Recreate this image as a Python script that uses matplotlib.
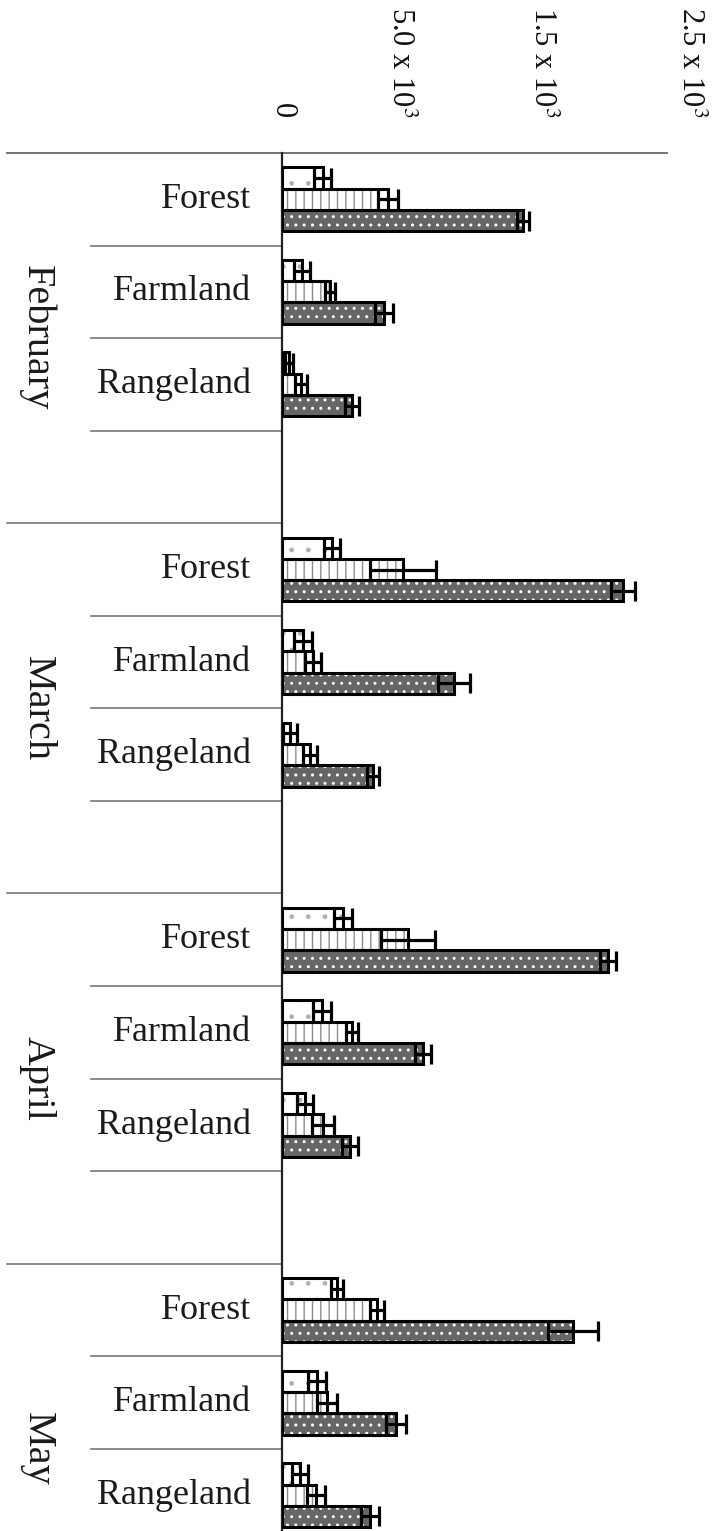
import matplotlib
matplotlib.use('Agg')
import matplotlib.pyplot as plt
import numpy as np

plt.rcParams['font.family'] = ['Liberation Serif', 'DejaVu Serif']
plt.rcParams['mathtext.fontset'] = 'stix'
plt.rcParams['hatch.linewidth'] = 1.0

# 分组
months = ['February', 'March', 'April', 'May']
lands = ['Forest', 'Farmland', 'Rangeland']

# 三组柱子的数值和误差（顺序：每个月 Forest, Farmland, Rangeland）
bar_a = [280, 140, 50, 345, 145, 55, 420, 275, 160, 380, 240, 125]
bar_a_err = [60, 55, 28, 55, 60, 48, 60, 60, 55, 42, 60, 55]
bar_b = [730, 330, 130, 835, 215, 195, 870, 485, 285, 655, 310, 235]
bar_b_err = [70, 35, 40, 228, 55, 48, 186, 42, 76, 48, 70, 62]
bar_c = [1660, 705, 485, 2350, 1185, 630, 2250, 970, 470, 2005, 785, 605]
bar_c_err = [42, 62, 48, 82, 110, 42, 55, 55, 55, 172, 70, 62]

tick_pos = [0, 810, 1790, 2810]
tick_text = ['0', r'5.0 x 10$^3$', r'1.5 x 10$^3$', r'2.5 x 10$^3$']

fig = plt.figure(figsize=(7.2, 15.31), dpi=100)
ax = fig.add_axes([0.3917, -0.0673, 0.584, 0.9674])

# 每个月占 4 格（3 个类别 + 1 个空格）
slots = np.array([4 * m + l for m in range(len(months)) for l in range(len(lands))]) + 0.5
h = 0.23

styles = [
    (bar_a, bar_a_err, -h, 'white', '#b0b0b0', '.'),
    (bar_b, bar_b_err, 0.0, 'white', '#8c8c8c', '||'),
    (bar_c, bar_c_err, h, '#666666', 'white', '..'),
]
for vals, errs, off, fc, hc, hatch in styles:
    y = slots + off
    ax.barh(y, vals, height=h, color=fc, edgecolor=hc, linewidth=0, hatch=hatch, zorder=2)
    ax.barh(y, vals, height=h, fill=False, edgecolor='black', linewidth=2.2, zorder=3)
    ax.errorbar(vals, y, xerr=errs, fmt='none', ecolor='black', elinewidth=2.3,
                capsize=7, capthick=2.3, zorder=4)

ax.set_xlim(0, 2900)
ax.set_ylim(16, 0)

# 数值轴刻度放在上方，文字竖排
ax.xaxis.tick_top()
ax.set_xticks(tick_pos)
ax.set_xticklabels(tick_text, rotation=-90, fontsize=22, color='#111111')
ax.tick_params(axis='x', length=0, pad=25)
ax.set_yticks([])

for s in ['top', 'right', 'bottom']:
    ax.spines[s].set_visible(False)
ax.spines['left'].set_color('#222222')
ax.spines['left'].set_linewidth(1.6)

tr = ax.get_yaxis_transform()
# 顶部横线
ax.plot([-0.654, 0.9156], [0, 0], transform=tr, color='#666666', lw=1.3, clip_on=False)

for m, month in enumerate(months):
    base = 4 * m
    # 月份分隔线
    if m > 0:
        ax.plot([-0.654, 0], [base, base], transform=tr, color='#777777', lw=1.2, clip_on=False)
    # 类别分隔线
    for k in range(1, 4):
        ax.plot([-0.454, 0], [base + k, base + k], transform=tr, color='#777777', lw=1.2,
                clip_on=False)
    for l, land in enumerate(lands):
        ax.text(-0.074, base + l + 0.5, land, transform=tr, ha='right', va='center',
                fontsize=26, color='#1a1a1a')
    ax.text(-0.583, base + 2, month, transform=tr, ha='center', va='center',
            rotation=-90, fontsize=29, color='#1a1a1a')

fig.savefig('out.png', dpi=100)
